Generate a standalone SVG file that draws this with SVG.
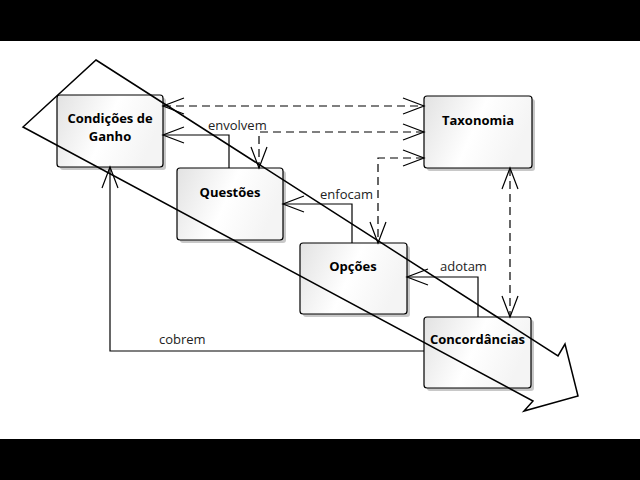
<svg xmlns="http://www.w3.org/2000/svg" width="640" height="480" viewBox="0 0 640 480">
<style>
.box{stroke:#000;stroke-width:1.2;fill:url(#g)}
.sh{fill:#c8c8c8}
.nt{font-family:"Open Sans","DejaVu Sans",sans-serif;font-weight:bold;font-size:13px;fill:#000;text-anchor:middle}
.lb{font-family:"Open Sans","DejaVu Sans",sans-serif;font-size:13px;fill:#222}
.c{fill:none;stroke:#000;stroke-width:1.2}
.d{stroke-dasharray:8 5}
</style>
<defs>
<linearGradient id="g" x1="0" y1="0" x2="1" y2="0.3">
<stop offset="0" stop-color="#e2e2e2"/>
<stop offset="0.55" stop-color="#ffffff"/>
<stop offset="1" stop-color="#f4f4f4"/>
</linearGradient>
<marker id="a" viewBox="-23 -10 25 20" refX="0" refY="0" markerWidth="25" markerHeight="20" markerUnits="userSpaceOnUse" orient="auto-start-reverse" overflow="visible">
<path d="M-21,-8 L0,0 L-21,8" fill="none" stroke="#000" stroke-width="1.2" stroke-dasharray="none"/>
</marker>
</defs>
<rect x="0" y="0" width="640" height="41" fill="#000"/>
<rect x="0" y="439" width="640" height="41" fill="#000"/>
<g id="n-condicoes">
<rect class="sh" x="60" y="98" width="106" height="72" rx="3"/>
<rect class="box" x="57" y="95" width="106" height="72" rx="3"/>
<text class="nt" x="110" y="123">Condições de</text>
<text class="nt" x="110" y="141">Ganho</text>
</g>
<g id="n-taxonomia">
<rect class="sh" x="427" y="99" width="108" height="72" rx="3"/>
<rect class="box" x="424" y="96" width="108" height="72" rx="3"/>
<text class="nt" x="478" y="125">Taxonomia</text>
</g>
<g id="n-questoes">
<rect class="sh" x="180" y="171" width="106" height="72" rx="3"/>
<rect class="box" x="177" y="168" width="106" height="72" rx="3"/>
<text class="nt" x="230" y="197">Questões</text>
</g>
<g id="n-opcoes">
<rect class="sh" x="303" y="246" width="107" height="71" rx="3"/>
<rect class="box" x="300" y="243" width="107" height="71" rx="3"/>
<text class="nt" x="353" y="271">Opções</text>
</g>
<g id="n-concordancias">
<rect class="sh" x="427" y="320" width="107" height="71" rx="3"/>
<rect class="box" x="424" y="317" width="107" height="71" rx="3"/>
<text class="nt" x="477.5" y="344">Concordâncias</text>
</g>
<g id="connectors">
<path class="c d" d="M163,106 H424" marker-start="url(#a)" marker-end="url(#a)"/>
<path class="c d" d="M424,132 H259 V168" marker-start="url(#a)" marker-end="url(#a)"/>
<path class="c d" d="M424,158 H378 V243" marker-start="url(#a)" marker-end="url(#a)"/>
<path class="c d" d="M510,168 V317" marker-start="url(#a)" marker-end="url(#a)"/>
<path class="c" d="M229,168 V135 H163" marker-end="url(#a)"/>
<path class="c" d="M352,243 V204 H283" marker-end="url(#a)"/>
<path class="c" d="M478,317 V277 H407" marker-end="url(#a)"/>
<path class="c" d="M424,351 H110 V167" marker-end="url(#a)"/>
<text class="lb" x="208" y="130">envolvem</text>
<text class="lb" x="320" y="199">enfocam</text>
<text class="lb" x="440" y="271">adotam</text>
<text class="lb" x="159" y="344">cobrem</text>
</g>
<polygon points="96,60 558,356 565,344 578,396 524,411 533,401 23,127" fill="none" stroke="#000" stroke-width="1.5" stroke-linejoin="miter"/>
</svg>
